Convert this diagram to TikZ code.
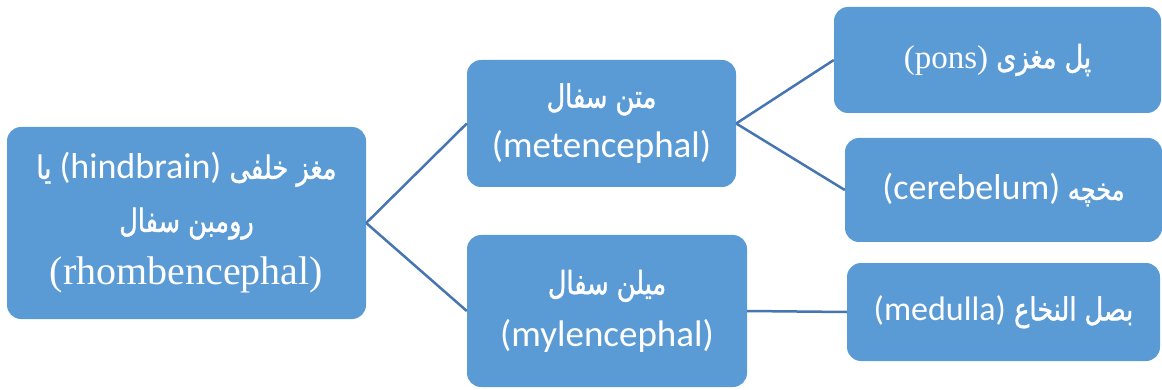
\documentclass[tikz,border=0pt]{standalone}
\usepackage{fontspec}
\TeXXeTstate=1
\newfontfamily\arfont[Script=Arabic,FakeStretch=0.8,FakeBold=1.2]{DejaVu Sans}
\newfontfamily\lsans{Carlito}
\newfontfamily\lserif{Liberation Serif}
\definecolor{boxblue}{RGB}{91,155,213}
\definecolor{lineblue}{RGB}{70,118,178}
\begin{document}
\begin{tikzpicture}[x=1pt,y=-1pt,
  box/.style={fill=boxblue, rounded corners=14pt, text=white, align=center, inner sep=0pt},
  link/.style={draw=lineblue, line width=2.5pt}]
\useasboundingbox (0,0) rectangle (1162,390);
\node[box, minimum width=359pt, minimum height=192pt, font=\fontsize{36}{53}\selectfont] (root) at (186.5,223)
  {{\arfont\fontsize{32}{53}\selectfont\beginR مغز خلفی \beginL{\lsans\fontsize{36}{53}\selectfont(hindbrain)}\endL{} یا\endR}\\
   {\arfont\fontsize{32}{53}\selectfont\beginR رومبن سفال\endR}\\
   {\lserif\fontsize{40}{53}\selectfont(rhombencephal)}};
\node[box, minimum width=269pt, minimum height=127pt, font=\fontsize{36}{50}\selectfont] (meta) at (601.5,123.5)
  {{\arfont\fontsize{32}{50}\selectfont\beginR متن سفال\endR}\\
   {\lsans\fontsize{37}{50}\selectfont(metencephal)}};
\node[box, minimum width=280pt, minimum height=152pt, font=\fontsize{36}{52}\selectfont] (mylen) at (607,311)
  {{\arfont\fontsize{32}{52}\selectfont\beginR میلن سفال\endR}\\
   {\lsans\fontsize{37}{52}\selectfont(mylencephal)}};
\node[box, minimum width=327pt, minimum height=106pt, font=\fontsize{33}{40}\selectfont] (pons) at (997.5,60)
  {{\arfont\fontsize{32}{40}\selectfont\beginR پل مغزی \beginL{\lserif\fontsize{33}{40}\selectfont(pons)}\endL\endR}};
\node[box, minimum width=317pt, minimum height=104pt, font=\fontsize{36}{40}\selectfont] (cereb) at (1003.5,190)
  {{\arfont\fontsize{30}{40}\selectfont\beginR مخچه \beginL{\lsans\fontsize{36}{40}\selectfont(cerebelum)}\endL\endR}};
\node[box, minimum width=313pt, minimum height=98pt, font=\fontsize{34}{40}\selectfont] (medulla) at (1003.5,312)
  {{\arfont\fontsize{32}{40}\selectfont\beginR بصل النخاع \beginL{\lsans\fontsize{34}{40}\selectfont(medulla)}\endL\endR}};
\draw[link] (root.east) -- (meta.west);
\draw[link] (root.east) -- (mylen.west);
\draw[link] (meta.east) -- (pons.west);
\draw[link] (meta.east) -- (cereb.west);
\draw[link] (mylen.east) -- (medulla.west);
\end{tikzpicture}
\end{document}
